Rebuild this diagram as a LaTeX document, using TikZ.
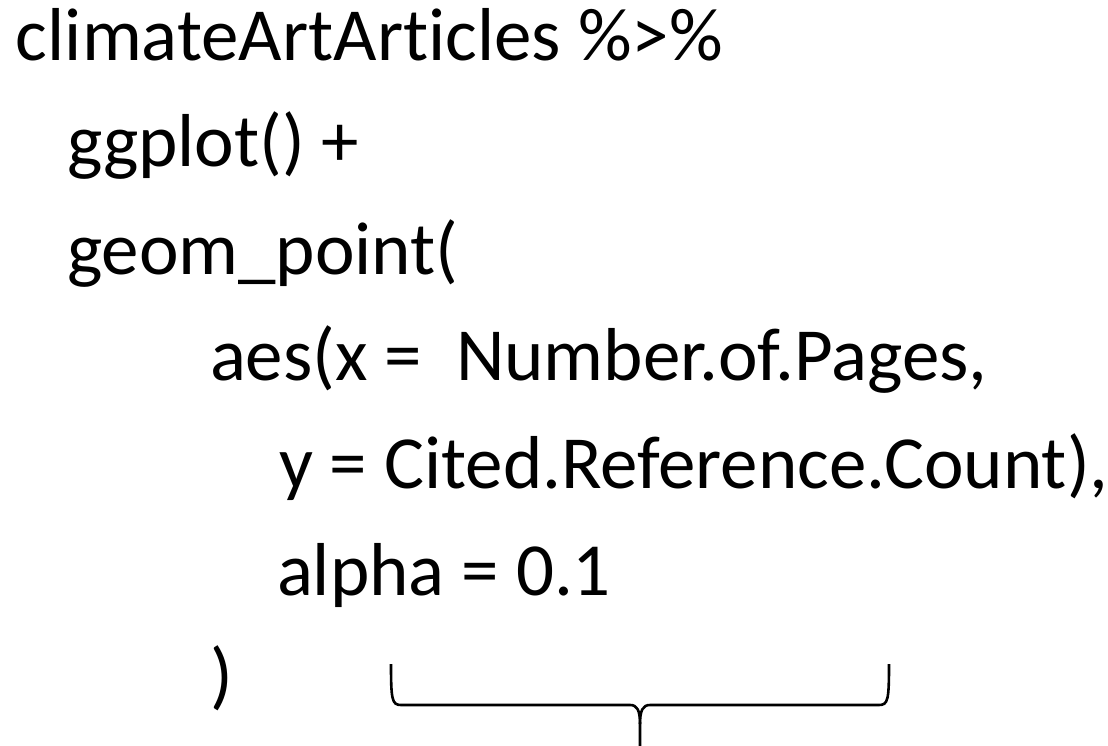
\documentclass[tikz,border=0pt]{standalone}
\usepackage{fontspec}
\setmainfont{Carlito}[Ligatures={NoCommon,NoContextual}]
\tikzset{
  code/.style={anchor=base west, inner sep=0pt, outer sep=0pt, text=black,
    font=\fontsize{75}{90}\selectfont},
  bracestroke/.style={line width=2.6pt, line join=round, line cap=butt, draw=black}
}
\begin{document}
\begin{tikzpicture}[x=1pt,y=-1pt]
\useasboundingbox (0,0) rectangle (1108,746);
\node[code] (l1) at (16,61)  {climateArtArticles \%>\%};
\node[code] (l2) at (67,167) {ggplot() +};
\node[code] (l3) at (67,274) {geom\_point(};
\node[code] (l4) at (210,380) {aes(x = \ Number.of.Pages,};
\node[code] (l5) at (279,488) {y = Cited.Reference.Count),};
\node[code] (l6) at (277,595) {alpha = 0.1};
\node[code] (l7) at (210,700) {)};
% brace
\coordinate (bl) at (391,664);
\coordinate (br) at (889,664);
\coordinate (bm) at (640,748);
\draw[bracestroke] (bl) .. controls (391,700) and (392,705) .. (401,705)
  -- (630,705) .. controls (637,705) and (640,710) .. (640,724) -- (bm);
\draw[bracestroke] (br) .. controls (889,700) and (888,705) .. (879,705)
  -- (650,705) .. controls (643,705) and (640,710) .. (640,724);
\end{tikzpicture}
\end{document}
